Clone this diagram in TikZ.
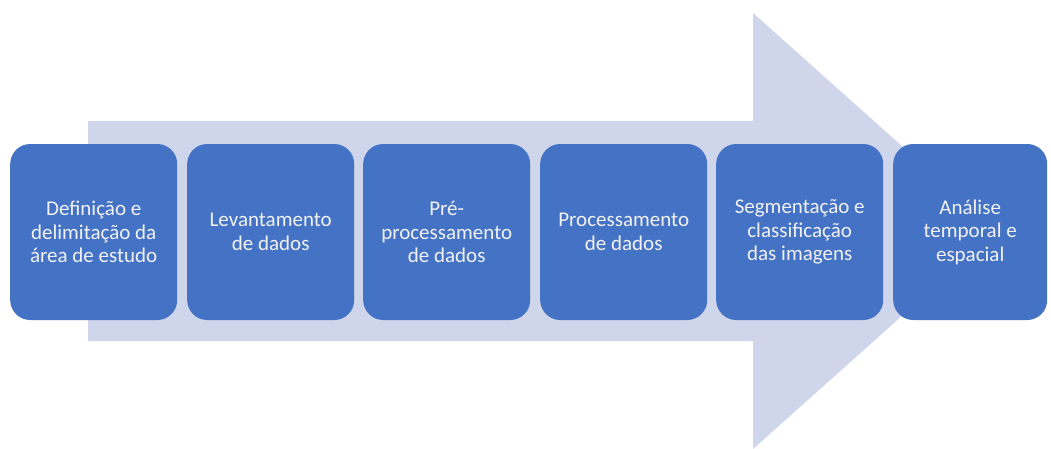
\documentclass[tikz,border=0pt]{standalone}
\usepackage{fontspec}
\setmainfont{Carlito}
\definecolor{boxblue}{HTML}{4472C4}
\definecolor{arrowgray}{HTML}{CFD5EA}
\definecolor{txt}{HTML}{F2F2F2}
\begin{document}
\begin{tikzpicture}[x=1pt,y=-1pt,
  stepbox/.style={fill=boxblue, rounded corners=20pt, minimum width=167pt, minimum height=176pt,
    text=txt, align=center, font=\fontsize{21}{23.5}\selectfont, inner sep=0pt, anchor=west}]
\useasboundingbox (0,0) rectangle (1051,448);
\begin{scope}
\clip (0,0) rectangle (1051,448);
\fill[arrowgray] (88,121) -- (753,121) -- (753,13) -- (997,231) -- (753,449) -- (753,341) -- (88,341) -- cycle;
\end{scope}
\node[stepbox] (s1) at (10,232) {Definição e\\delimitação da\\área de estudo};
\node[stepbox] (s2) at (187,232) {Levantamento\\de dados};
\node[stepbox] (s3) at (363,232) {Pré-\\processamento\\de dados};
\node[stepbox] (s4) at (540,232) {Processamento\\de dados};
\node[stepbox] (s5) at (716,232) {Segmentação e\\classificação\\das imagens};
\node[stepbox, minimum width=154pt] (s6) at (893,232) {Análise\\temporal e\\espacial};
\end{tikzpicture}
\end{document}
